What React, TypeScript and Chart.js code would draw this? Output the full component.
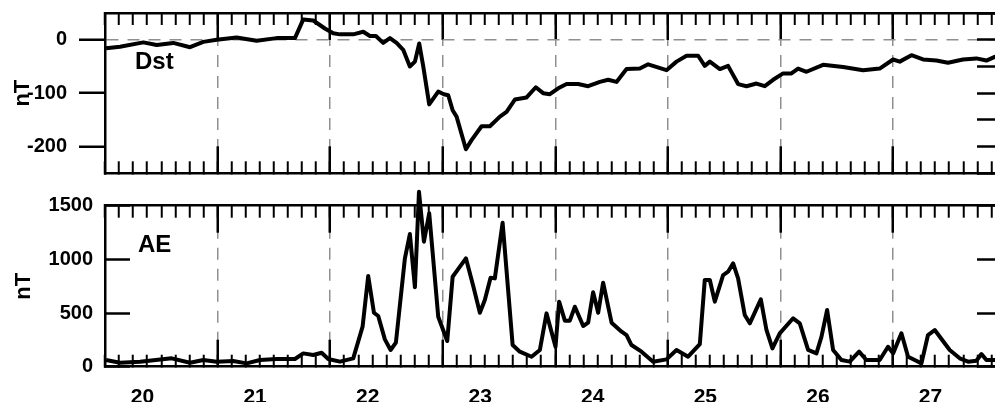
import React, { useEffect, useRef } from "react";
import { Chart, registerables } from "chart.js";

Chart.register(...registerables);

// ---------------- data ----------------
const dstTimes = [
  19.676, 19.8, 20.007, 20.126, 20.273, 20.422, 20.54, 20.659, 20.836, 21.014,
  21.191, 21.354, 21.428, 21.517, 21.62, 21.694, 21.754, 21.872, 21.961, 22.02,
  22.073, 22.138, 22.198, 22.257, 22.316, 22.375, 22.42, 22.458, 22.494, 22.547,
  22.627, 22.677, 22.716, 22.755, 22.79, 22.873, 22.923, 23.012, 23.086, 23.175,
  23.234, 23.308, 23.412, 23.494, 23.559, 23.619, 23.693, 23.767, 23.87, 23.959,
  24.063, 24.137, 24.211, 24.3, 24.418, 24.492, 24.655, 24.744, 24.833, 24.936,
  24.995, 25.04, 25.129, 25.202, 25.291, 25.366, 25.454, 25.528, 25.602, 25.691,
  25.765, 25.824, 25.899, 26.046, 26.224, 26.401, 26.549, 26.668, 26.727, 26.831,
  26.934, 27.053, 27.156, 27.289, 27.408, 27.497, 27.571, 27.6,
];
const dstValues = [
  -16, -13, -5, -10, -6, -14, -4, 0, 4, -2,
  3, 3, 38, 36, 21, 12, 10, 10, 15, 7,
  7, -6, 3, -6, -19, -50, -41, -7, -50, -121,
  -97, -102, -104, -132, -144, -205, -188, -162, -162, -144,
  -135, -112, -108, -89, -100, -102, -91, -83, -83, -87,
  -79, -75, -79, -55, -54, -46, -57, -41, -30, -30,
  -49, -41, -55, -49, -83, -87, -82, -87, -75, -63,
  -63, -54, -60, -47, -51, -57, -54, -37, -41, -29,
  -37, -39, -43, -37, -35, -39, -32, -33,
];

const aeTimes = [
  19.676, 19.8, 19.978, 20.259, 20.422, 20.54, 20.659, 20.806, 20.925, 21.043,
  21.191, 21.354, 21.428, 21.517, 21.591, 21.65, 21.754, 21.872, 21.955, 22.005,
  22.056, 22.094, 22.153, 22.204, 22.251, 22.331, 22.375, 22.42, 22.456, 22.5,
  22.547, 22.627, 22.707, 22.755, 22.82, 22.873, 22.938, 22.997, 23.041, 23.092,
  23.13, 23.199, 23.288, 23.352, 23.456, 23.53, 23.589, 23.669, 23.701, 23.752,
  23.796, 23.841, 23.915, 23.959, 24.003, 24.048, 24.092, 24.167, 24.256, 24.3,
  24.344, 24.433, 24.536, 24.655, 24.744, 24.847, 24.951, 24.995, 25.04, 25.084,
  25.158, 25.202, 25.247, 25.291, 25.35, 25.395, 25.493, 25.543, 25.596, 25.661,
  25.78, 25.839, 25.913, 25.987, 26.032, 26.082, 26.135, 26.209, 26.283, 26.366,
  26.431, 26.549, 26.623, 26.668, 26.742, 26.801, 26.86, 26.92, 26.978, 27.038,
  27.171, 27.26, 27.334, 27.408, 27.453, 27.497, 27.571, 27.6,
];
const aeValues = [
  62, 37, 47, 78, 37, 62, 47, 53, 31, 62,
  72, 72, 124, 109, 130, 72, 47, 78, 373, 845,
  503, 472, 255, 156, 224, 1010, 1236, 740, 1630, 1165,
  1429, 466, 239, 838, 932, 1010, 752, 503, 621, 829,
  823, 1342, 202, 140, 93, 156, 497, 186, 606, 429,
  429, 559, 379, 410, 693, 503, 783, 410, 326, 295,
  202, 140, 47, 68, 156, 93, 211, 808, 808, 606,
  854, 885, 963, 823, 482, 404, 628, 342, 171, 311,
  451, 404, 156, 124, 280, 528, 156, 62, 47, 140,
  62, 62, 186, 124, 311, 93, 62, 31, 295, 342,
  156, 78, 47, 56, 118, 62, 62, 60,
];

// x axis: day labels and day boundaries (dashed lines)
const dayLabels = ["20", "21", "22", "23", "24", "25", "26", "27"];
const dayLabelValues = [20, 21, 22, 23, 24, 25, 26, 27];
const dayBoundaries = [20 + 2 / 3, 21 + 2 / 3, 22 + 2 / 3, 23 + 2 / 3, 24 + 2 / 3, 25 + 2 / 3, 26 + 2 / 3];
const X_MIN = 19 + 2 / 3;
const X_MAX = 27.6;
const minorStepDays = 0.125; // 3 hours

// y axis ticks
const dstLeftTicks = [0, -100, -200];
const dstRightTicks = [50, 0, -50, -100, -150, -200, -250];
const aeLeftTicks = [0, 500, 1000, 1500];
const aeRightTicks = [0, 500, 1000, 1500];

// ---------------- styles ----------------
const FONT = "'Liberation Sans', Arial, Helvetica, sans-serif";
const GRID_GRAY = "#8f8f8f";
const W = 1000;
const H = 402;

const minorTickValues: number[] = [];
for (let k = 0; X_MIN + k * minorStepDays <= X_MAX + 1e-9; k++) minorTickValues.push(X_MIN + k * minorStepDays);

const setTicks = (vals: number[]) => (s: any) => {
  s.ticks = vals.map((v) => ({ value: v }));
};
const noPad = (s: any) => {
  s.paddingTop = 0;
  s.paddingBottom = 0;
  s.paddingLeft = 0;
  s.paddingRight = 0;
};
const fixH = (h: number) => (s: any) => {
  s.height = h;
  noPad(s);
};
const fixW = (w: number) => (s: any) => {
  s.width = w;
  noPad(s);
};

function hAxis(position: "top" | "bottom", major: boolean, drawGrid: boolean, withBorder: boolean) {
  return {
    type: "linear",
    position,
    min: X_MIN,
    max: X_MAX,
    afterBuildTicks: setTicks(major ? dayBoundaries : minorTickValues),
    afterFit: fixH(0),
    ticks: { display: false },
    grid: {
      display: true,
      drawOnChartArea: drawGrid,
      color: GRID_GRAY,
      lineWidth: 1.5,
      drawTicks: true,
      tickLength: major ? -27 : -12,
      tickColor: "#000",
      tickWidth: major ? 2.5 : 2,
    },
    border: { display: withBorder, color: "#000", width: 2.5, dash: [12, 9] },
  };
}

const tickFont = { family: FONT, size: 20, weight: "bold" as const };
const dayFont = { family: FONT, size: 21, weight: "bold" as const };
const titleFont = { family: FONT, size: 22, weight: "bold" as const };
const plainLabel = (v: any) => String(v);

function panelLabel(text: string, dx: number, dy: number) {
  return {
    id: "panelLabel",
    afterDraw(chart: any) {
      const { ctx, chartArea } = chart;
      ctx.save();
      ctx.font = `bold 24px ${FONT}`;
      ctx.fillStyle = "#000";
      ctx.textBaseline = "alphabetic";
      ctx.textAlign = "left";
      ctx.fillText(text, chartArea.left + dx, chartArea.top + dy);
      ctx.restore();
    },
  };
}

function lineDataset(times: number[], values: number[]) {
  return {
    data: times.map((t, i) => ({ x: t, y: values[i] })),
    borderColor: "#000",
    borderWidth: 4,
    pointRadius: 0,
    tension: 0,
    borderJoinStyle: "round",
    clip: false,
  };
}

function dstConfig(): any {
  return {
    type: "line",
    data: { datasets: [lineDataset(dstTimes, dstValues)] },
    options: {
      animation: false,
      responsive: false,
      events: [],
      layout: { padding: { left: 0, right: 0, top: 13, bottom: H - 173.3 } },
      plugins: { legend: { display: false }, tooltip: { enabled: false } },
      scales: {
        x: hAxis("bottom", false, false, true),
        xMajB: hAxis("bottom", true, true, false),
        xTop: hAxis("top", false, false, true),
        xMajT: hAxis("top", true, false, false),
        y: {
          type: "linear",
          position: "left",
          min: -250,
          max: 50,
          afterBuildTicks: setTicks(dstLeftTicks),
          afterFit: fixW(105),
          ticks: { display: true, autoSkip: false, color: "#000", font: tickFont, padding: 12, callback: plainLabel },
          grid: {
            drawOnChartArea: true,
            color: (c: any) => (c.tick && c.tick.value === 0 ? GRID_GRAY : "rgba(0,0,0,0)"),
            lineWidth: 1.5,
            drawTicks: true,
            tickLength: 26,
            tickColor: "#000",
            tickWidth: 2.5,
          },
          border: { display: true, color: "#000", width: 2.5, dash: [12, 9] },
          title: { display: true, text: "nT", color: "#000", font: titleFont, padding: { top: 10, bottom: 0 } },
        },
        yR: {
          type: "linear",
          position: "right",
          min: -250,
          max: 50,
          afterBuildTicks: setTicks(dstRightTicks),
          afterFit: fixW(W - 998),
          ticks: { display: false },
          grid: { drawOnChartArea: false, drawTicks: true, tickLength: -21, tickColor: "#000", tickWidth: 2.5 },
          border: { display: true, color: "#000", width: 2.5 },
        },
      },
    },
    plugins: [panelLabel("Dst", 30, 56.3)],
  };
}

function aeConfig(): any {
  return {
    type: "line",
    data: { datasets: [lineDataset(aeTimes, aeValues)] },
    options: {
      animation: false,
      responsive: false,
      events: [],
      layout: { padding: { left: 0, right: 0, top: 205.7, bottom: 0 } },
      plugins: { legend: { display: false }, tooltip: { enabled: false } },
      scales: {
        x: hAxis("bottom", false, false, true),
        xMajB: hAxis("bottom", true, true, false),
        xTop: hAxis("top", false, false, true),
        xMajT: hAxis("top", true, false, false),
        xL: {
          type: "linear",
          position: "bottom",
          weight: 10,
          min: X_MIN,
          max: X_MAX,
          afterBuildTicks: setTicks(dayLabelValues),
          afterFit: fixH(H - 366.7),
          ticks: {
            display: true,
            autoSkip: false,
            maxRotation: 0,
            minRotation: 0,
            padding: 18,
            color: "#000",
            font: dayFont,
            callback: (_v: any, i: number) => dayLabels[i],
          },
          grid: { display: false, drawTicks: false },
          border: { display: false },
        },
        y: {
          type: "linear",
          position: "left",
          min: 0,
          max: 1500,
          afterBuildTicks: setTicks(aeLeftTicks),
          afterFit: fixW(105),
          ticks: { display: true, autoSkip: false, color: "#000", font: tickFont, padding: 37, callback: plainLabel },
          grid: { drawOnChartArea: false, drawTicks: true, tickLength: -25, tickColor: "#000", tickWidth: 2.5 },
          border: { display: true, color: "#000", width: 2.5 },
          title: { display: true, text: "nT", color: "#000", font: titleFont, padding: { top: 11, bottom: 0 } },
        },
        yR: {
          type: "linear",
          position: "right",
          min: 0,
          max: 1500,
          afterBuildTicks: setTicks(aeRightTicks),
          afterFit: fixW(W - 998),
          ticks: { display: false },
          grid: { drawOnChartArea: false, drawTicks: true, tickLength: -21, tickColor: "#000", tickWidth: 2.5 },
          border: { display: true, color: "#000", width: 2.5 },
        },
      },
    },
    plugins: [panelLabel("AE", 33, 46.6)],
  };
}

export default function App() {
  const topRef = useRef<HTMLCanvasElement | null>(null);
  const botRef = useRef<HTMLCanvasElement | null>(null);

  useEffect(() => {
    const charts: Chart[] = [];
    if (topRef.current) charts.push(new Chart(topRef.current, dstConfig()));
    if (botRef.current) charts.push(new Chart(botRef.current, aeConfig()));
    return () => charts.forEach((c) => c.destroy());
  }, []);

  const canvasStyle: React.CSSProperties = { position: "absolute", left: 0, top: 0 };
  return (
    <div
      style={{
        position: "fixed",
        left: 0,
        top: 0,
        width: 995,
        height: H,
        overflow: "hidden",
        background: "#fff",
      }}
    >
      <canvas ref={topRef} width={W} height={H} style={canvasStyle} />
      <canvas ref={botRef} width={W} height={H} style={canvasStyle} />
    </div>
  );
}
